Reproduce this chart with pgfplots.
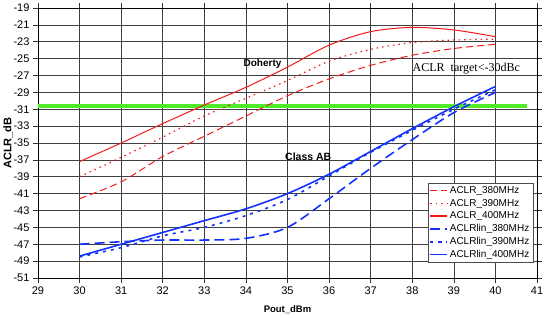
\documentclass[border=0pt]{standalone}
\usepackage{pgfplots}
\pgfplotsset{compat=1.18}
\usepackage{fontspec}
\setmainfont{Liberation Sans}
\newfontfamily\timesfont{Liberation Serif}
\definecolor{lgreen}{RGB}{80,235,40}
\definecolor{myred}{RGB}{245,25,25}
\definecolor{myblue}{RGB}{20,50,255}
\begin{document}
\begin{tikzpicture}
\useasboundingbox (-38pt,-39pt) rectangle (506pt,278pt);
\begin{axis}[
  scale only axis,
  width=499pt, height=270pt,
  xmin=29, xmax=41, ymin=-51, ymax=-19,
  xtick={29,30,...,41},
  xticklabels={29,30,31,32,33,34,35,36,37,38,39,40,41},
  ytick={-51,-49,-47,-45,-43,-41,-39,-37,-35,-33,-31,-29,-27,-25,-23,-21,-19},
  yticklabels={-51,-49,-47,-45,-43,-41,-39,-37,-35,-33,-31,-29,-27,-25,-23,-21,-19},
  tick align=outside,
  major tick length=5pt,
  tick style={black!80, line width=0.6pt},
  grid=major,
  major grid style={black!75, line width=0.6pt},
  axis line style={black, line width=0.7pt},
  ticklabel style={font=\fontsize{11}{12}\selectfont},
  xlabel={\bfseries Pout\_dBm},
  ylabel={\bfseries ACLR\_dB},
  xlabel style={font=\fontsize{9.5}{11}\selectfont, at={(axis description cs:0.5,0)}, anchor=center, yshift=-32pt},
  ylabel style={font=\fontsize{11}{12}\selectfont, at={(axis description cs:-0.0601,0.5)}, anchor=center},
  legend style={at={(0.992,0.056)}, anchor=south east, draw=black!70, fill=white,
    font=\fontsize{10}{11.5}\selectfont, row sep=0.2pt, inner sep=1.5pt},
  legend image post style={line width=1.3pt},
  legend cell align=left,
  clip=false,
]
\addplot[lgreen, line width=3.5pt, forget plot] coordinates {(29,-30.6) (40.75,-30.6)};

\addplot[myred, line width=1pt, dash pattern=on 7pt off 4pt, smooth, tension=0.5] coordinates {
(30,-41.6) (31,-39.6) (32,-36.6) (33,-34.2) (34,-31.8) (35,-29.4) (36,-27.4) (37,-25.8) (38,-24.6) (39,-23.8) (40,-23.3)};
\addlegendentry{ACLR\_380MHz}
\addplot[myred, line width=1.2pt, dash pattern=on 1.5pt off 4pt, smooth, tension=0.5] coordinates {
(30,-39.0) (31,-36.7) (32,-34.3) (33,-31.8) (34,-29.7) (35,-27.6) (36,-25.3) (37,-23.9) (38,-23.1) (39,-22.8) (40,-22.7)};
\addlegendentry{ACLR\_390MHz}
\addplot[myred, line width=1pt, smooth, tension=0.5] coordinates {
(30,-37.2) (31,-35.0) (32,-32.7) (33,-30.5) (34,-28.4) (35,-26.0) (36,-23.4) (37,-21.8) (38,-21.3) (39,-21.6) (40,-22.4)};
\addlegendentry{ACLR\_400MHz}
\addplot[myblue, line width=1.6pt, dash pattern=on 10pt off 5pt, smooth, tension=0.5] coordinates {
(30,-47.0) (31,-46.7) (32,-46.5) (33,-46.5) (34,-46.3) (35,-45.0) (36,-41.6) (37,-38.0) (38,-34.6) (39,-31.4) (40,-29.0)};
\addlegendentry{ACLRlin\_380MHz}
\addplot[myblue, line width=1.6pt, dash pattern=on 3pt off 5pt, smooth, tension=0.5] coordinates {
(30,-48.5) (31,-47.4) (32,-46.0) (33,-45.0) (34,-43.6) (35,-41.7) (36,-38.9) (37,-36.1) (38,-33.5) (39,-31.0) (40,-28.7)};
\addlegendentry{ACLRlin\_390MHz}
\addplot[myblue, line width=1.6pt, smooth, tension=0.5] coordinates {
(30,-48.4) (31,-47.0) (32,-45.6) (33,-44.2) (34,-42.8) (35,-41.0) (36,-38.7) (37,-36.0) (38,-33.3) (39,-30.7) (40,-28.3)};
\addlegendentry{ACLRlin\_400MHz}

\node[font=\fontsize{10}{12}\selectfont\bfseries] at (axis cs:34.4,-25.6) {Doherty};
\node[font=\fontsize{10.5}{12}\selectfont\bfseries] at (axis cs:35.5,-36.6) {Class AB};
\node[font=\fontsize{12}{14}\selectfont\timesfont] at (axis cs:39.3,-26.2) {ACLR\ \ target<-30dBc};
\end{axis}
\end{tikzpicture}
\end{document}
